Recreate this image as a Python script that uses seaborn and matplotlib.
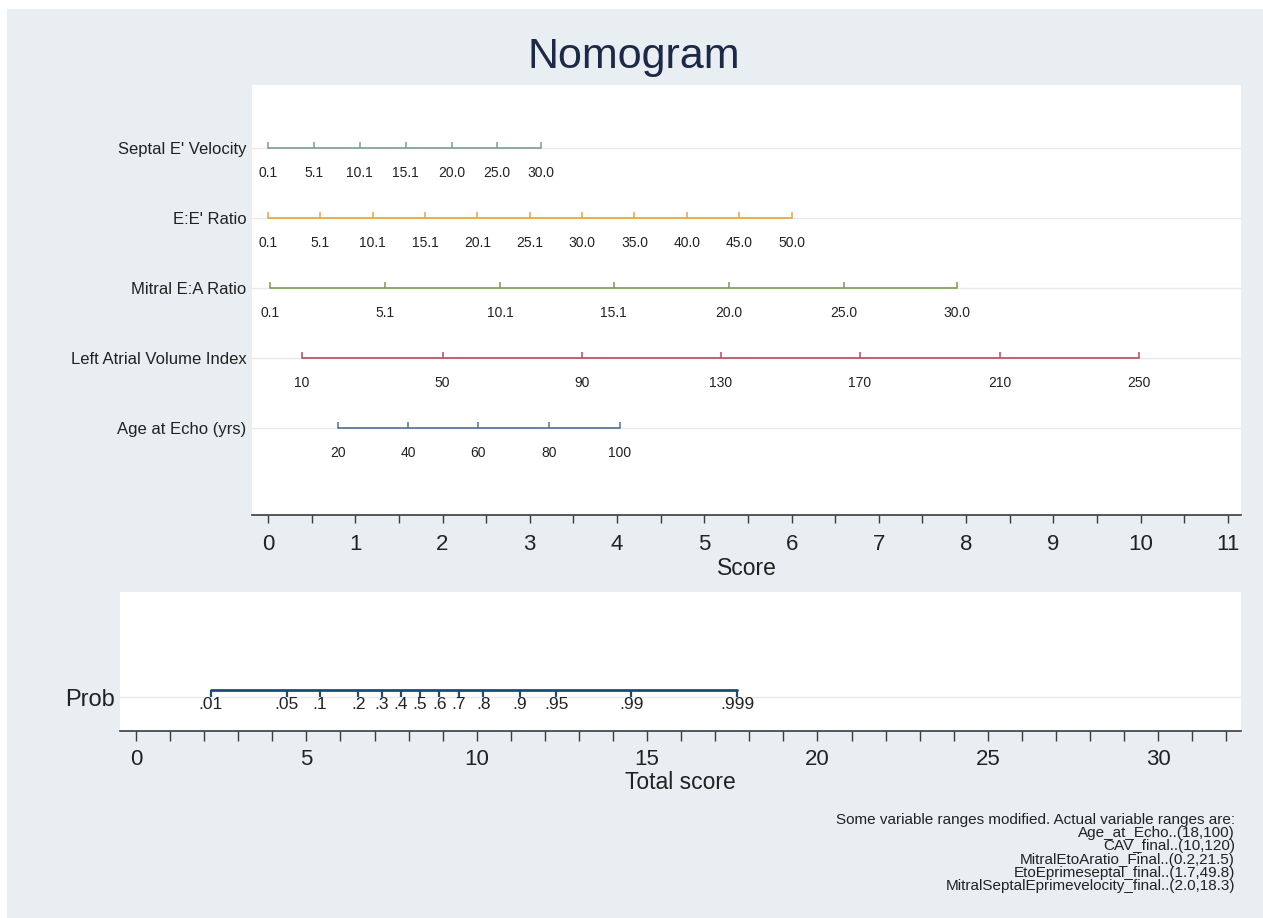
import matplotlib
matplotlib.use("Agg")
import pandas as pd
import seaborn as sns
import matplotlib.pyplot as plt
from matplotlib.patches import Rectangle
from matplotlib.ticker import MultipleLocator

sns.set_theme(style="white")
plt.rcParams['font.family'] = ['Liberation Sans', 'DejaVu Sans']

# predictors, top to bottom
variables = ["Septal E' Velocity", "E:E' Ratio", "Mitral E:A Ratio",
             "Left Atrial Volume Index", "Age at Echo (yrs)"]
colors = ["#7f9c93", "#e9a23e", "#7b9b55", "#b94c54", "#4e7098"]

septal_labels = ["0.1", "5.1", "10.1", "15.1", "20.0", "25.0", "30.0"]
septal_scores = [0.0, 0.53, 1.05, 1.58, 2.11, 2.62, 3.13]

eer_labels = ["0.1", "5.1", "10.1", "15.1", "20.1", "25.1", "30.0", "35.0", "40.0", "45.0", "50.0"]
eer_scores = [0.0, 0.6, 1.2, 1.8, 2.4, 3.0, 3.6, 4.2, 4.8, 5.4, 6.0]

mitral_labels = ["0.1", "5.1", "10.1", "15.1", "20.0", "25.0", "30.0"]
mitral_scores = [0.02, 1.34, 2.66, 3.96, 5.28, 6.6, 7.9]

lavi_labels = ["10", "50", "90", "130", "170", "210", "250"]
lavi_scores = [0.39, 2.0, 3.6, 5.19, 6.78, 8.39, 9.98]

age_labels = ["20", "40", "60", "80", "100"]
age_scores = [0.8, 1.61, 2.41, 3.22, 4.03]

prob_labels = [".01", ".05", ".1", ".2", ".3", ".4", ".5", ".6", ".7", ".8", ".9", ".95", ".99", ".999"]
prob_scores = [2.2, 4.43, 5.4, 6.52, 7.22, 7.78, 8.34, 8.9, 9.48, 10.19, 11.27, 12.33, 14.53, 17.64]

footnote = ("Some variable ranges modified. Actual variable ranges are:\n"
            "Age_at_Echo..(18,100)\n"
            "CAV_final..(10,120)\n"
            "MitralEtoAratio_Final..(0.2,21.5)\n"
            "EtoEprimeseptal_final..(1.7,49.8)\n"
            "MitralSeptalEprimevelocity_final..(2.0,18.3)")

all_labels = [septal_labels, eer_labels, mitral_labels, lavi_labels, age_labels]
all_scores = [septal_scores, eer_scores, mitral_scores, lavi_scores, age_scores]

rows = []
for i, (name, labs, scs) in enumerate(zip(variables, all_labels, all_scores)):
    for lab, sc in zip(labs, scs):
        rows.append({"variable": name, "row": i, "label": lab, "score": sc})
df = pd.DataFrame(rows)

W, H = 1263, 918
fig = plt.figure(figsize=(W / 100, H / 100), dpi=100, facecolor="white")
fig.patches.append(Rectangle((7 / W, 0), 1, 1 - 9 / H, transform=fig.transFigure,
                             facecolor="#e8eef1", edgecolor="none", zorder=-10))

def px_axes(left, top, right, bottom):
    return fig.add_axes([left / W, 1 - bottom / H, (right - left) / W, (bottom - top) / H])

axis_col = "#3a3a3a"

# ---- top panel: points per predictor
ax1 = px_axes(252, 85, 1241, 515)
ax1.set_facecolor("white")
sns.lineplot(data=df, x="score", y="row", hue="variable", palette=colors,
             hue_order=variables, estimator=None, sort=True, lw=1.2,
             legend=False, ax=ax1)
for i, name in enumerate(variables):
    sub = df[df["variable"] == name]
    ax1.vlines(sub["score"], sub["row"] - 0.085, sub["row"], color=colors[i], lw=1.1)
    for _, r in sub.iterrows():
        ax1.text(r["score"], r["row"] + 0.35, r["label"], ha="center", va="center",
                 fontsize=10, color="#222222")

ax1.set_xlim(-0.183, 11.15)
ax1.set_ylim(5.24, -0.9)
ax1.set_yticks(range(len(variables)))
ax1.set_yticklabels(variables)
ax1.tick_params(axis="y", length=0, pad=4, labelsize=12, labelcolor="#222222")
ax1.grid(axis="y", color="#e9e9e9", lw=1)
ax1.set_axisbelow(True)
ax1.xaxis.set_major_locator(MultipleLocator(1))
ax1.xaxis.set_minor_locator(MultipleLocator(0.5))
ax1.tick_params(axis="x", which="both", direction="out", length=6, width=1,
                color=axis_col, bottom=True, labelsize=16, pad=8, labelcolor="#222222")
for s in ["top", "left", "right"]:
    ax1.spines[s].set_visible(False)
ax1.spines["bottom"].set_color(axis_col)
ax1.spines["bottom"].set_linewidth(1.2)
ax1.set_xlabel("Score", fontsize=16.5, labelpad=1, color="#222222")
ax1.set_ylabel("")

# ---- bottom panel: total score to probability
ax2 = px_axes(120, 592, 1241, 731)
ax2.set_facecolor("white")
prob_df = pd.DataFrame({"score": prob_scores, "label": prob_labels})
prob_df["row"] = 0.0
sns.lineplot(data=prob_df, x="score", y=prob_df["row"] + 0.07, estimator=None,
             color="#1f4a72", lw=2, ax=ax2)
ax2.vlines(prob_df["score"], prob_df["row"], prob_df["row"] + 0.07, color="#1f4a72", lw=1.6)
for _, r in prob_df.iterrows():
    ax2.text(r["score"], r["row"] - 0.075, r["label"], ha="center", va="center",
             fontsize=12.5, color="#222222")

ax2.set_xlim(-0.47, 32.43)
ax2.set_ylim(-0.34, 1.05)
ax2.set_yticks([0])
ax2.set_yticklabels(["Prob"])
ax2.tick_params(axis="y", length=0, pad=4, labelsize=17, labelcolor="#222222")
ax2.grid(axis="y", color="#e9e9e9", lw=1)
ax2.set_axisbelow(True)
ax2.xaxis.set_major_locator(MultipleLocator(5))
ax2.xaxis.set_minor_locator(MultipleLocator(1))
ax2.tick_params(axis="x", which="both", direction="out", length=7, width=1,
                color=axis_col, bottom=True, labelsize=16, pad=6, labelcolor="#222222")
for s in ["top", "left", "right"]:
    ax2.spines[s].set_visible(False)
ax2.spines["bottom"].set_color(axis_col)
ax2.spines["bottom"].set_linewidth(1.2)
ax2.set_xlabel("Total score", fontsize=16.5, labelpad=1, color="#222222")
ax2.set_ylabel("")

fig.text(634 / W, 1 - 57 / H, "Nomogram", ha="center", va="center",
         fontsize=31, color="#1c2a48")
fig.text(1235 / W, 1 - 813 / H, footnote, ha="right", va="top",
         fontsize=11, linespacing=0.93, color="#222222")

fig.savefig("out.png", dpi=100, facecolor=fig.get_facecolor())
